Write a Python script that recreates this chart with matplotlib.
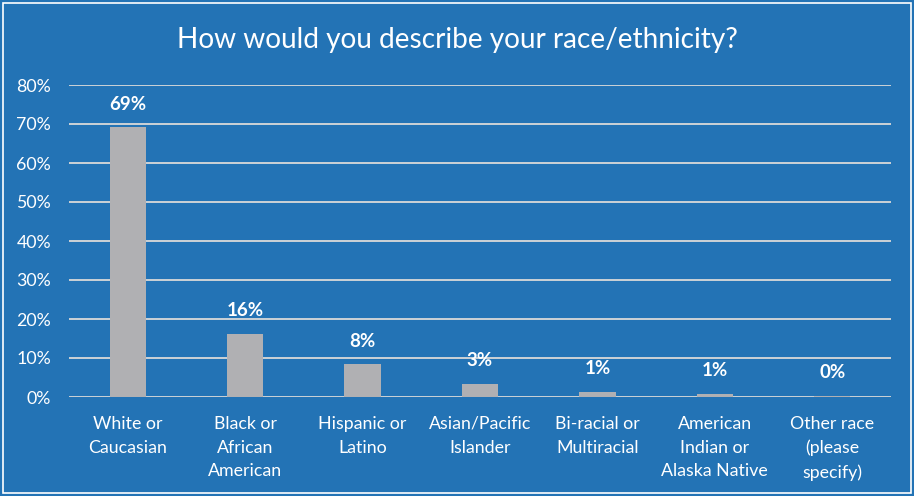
import matplotlib
matplotlib.use('Agg')
import matplotlib.pyplot as plt
from matplotlib.patches import Rectangle
import numpy as np

categories = ['White or\nCaucasian', 'Black or\nAfrican\nAmerican', 'Hispanic or\nLatino',
              'Asian/Pacific\nIslander', 'Bi-racial or\nMultiracial',
              'American\nIndian or\nAlaska Native', 'Other race\n(please\nspecify)']
shares = [0.692, 0.162, 0.084, 0.034, 0.014, 0.008, 0.003]
yticks = [0, 0.1, 0.2, 0.3, 0.4, 0.5, 0.6, 0.7, 0.8]

bg = '#2373B5'
bar_color = '#B0B0B3'
plt.rcParams['font.family'] = ['Lato', 'DejaVu Sans']

fig = plt.figure(figsize=(9.14, 4.96), dpi=100, facecolor=bg)
ax = fig.add_axes([69 / 914, 1 - 397 / 496, 822 / 914, 312 / 496])
ax.set_facecolor(bg)

x = np.arange(len(categories))
ax.bar(x, shares, width=0.31, color=bar_color, zorder=3)
for xi, v in zip(x, shares):
    ax.annotate(f'{v:.0%}', (xi, v), xytext=(0, 16.5), textcoords='offset points',
                ha='center', va='center', color='white',
                fontsize=13.5, fontweight='bold', zorder=4)

ax.set_xlim(-0.5, len(categories) - 0.5)
ax.set_ylim(0, 0.8)
ax.set_yticks(yticks)
ax.set_yticklabels([f'{t:.0%}' for t in yticks])
ax.grid(axis='y', color='#D9D9D9', linewidth=1.3, zorder=0)
ax.set_xticks(x)
ax.set_xticklabels(categories, linespacing=1.6)
ax.tick_params(axis='both', length=0, colors='white', labelsize=12.8)
ax.tick_params(axis='x', pad=13.5)
ax.tick_params(axis='y', pad=13)
for s in ax.spines.values():
    s.set_visible(False)

fig.text(0.5, 1 - 40 / 496, 'How would you describe your race/ethnicity?', ha='center',
         va='center', color='white', fontsize=20.2)

# thin white frame around the chart area
fig.patches.append(Rectangle((3 / 914, 3 / 496), 1 - 6 / 914, 1 - 6 / 496,
                             transform=fig.transFigure, fill=False,
                             edgecolor='white', linewidth=1.2))

fig.savefig('out.png', dpi=100, facecolor=bg)
